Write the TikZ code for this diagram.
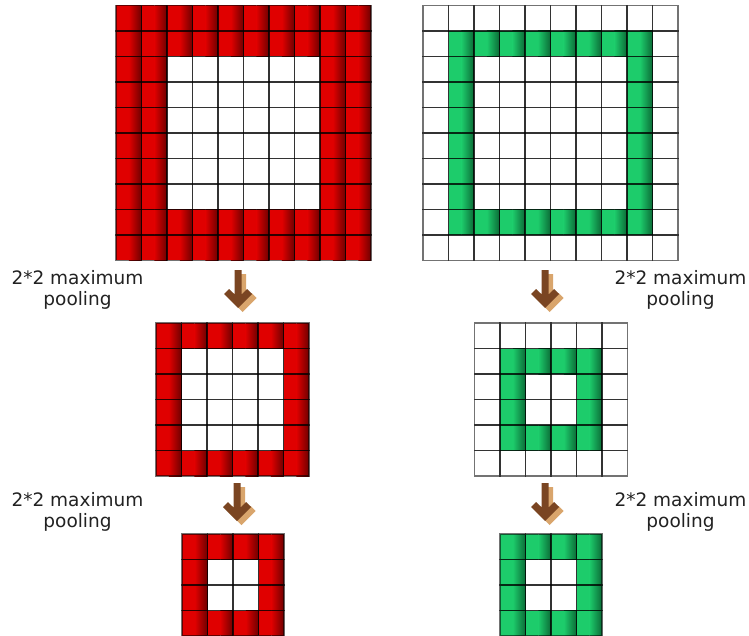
\documentclass[tikz,border=0pt]{standalone}
\usepackage{fontspec}
\setmainfont{DejaVu Sans}
\usetikzlibrary{positioning}
\definecolor{poolred}{HTML}{E00000}
\definecolor{poolreddark}{HTML}{6E0000}
\definecolor{poolgreen}{HTML}{1DCC6B}
\definecolor{poolgreendark}{HTML}{0B6B37}
\definecolor{arrowbrown}{HTML}{7A4522}
\definecolor{arrowtan}{HTML}{D9A56C}
\definecolor{notegray}{HTML}{222222}
\tikzset{
    cellline/.style={draw=black, draw opacity=0.55, line width=0.8pt},
    poolnote/.style={
        align=center,
        text=notegray,
        inner sep=0pt,
        font=\fontsize{9.25pt}{10.5pt}\selectfont
    },
    poolarrow/.pic={
        \foreach \dx/\dy/\col in {4.5/4/arrowtan, 0/0/arrowbrown}
            \fill[\col, shift={(\dx,\dy)}] (-3.5,-38) -- (3.5,-38) -- (3.5,-13.5) -- (9,-19) -- (14,-14)
                -- (0,0) -- (-14,-14) -- (-9,-19) -- (-3.5,-13.5) -- cycle;
    }
}
% grid: name, left, top, cells, colour, first ring, last ring
\newcommand{\poolgrid}[7]{%
    \pgfmathtruncatemacro{\gridlast}{#4-1}
    \foreach \i in {0,...,\gridlast}{
        \foreach \j in {0,...,\gridlast}{
            \pgfmathtruncatemacro{\cellring}{min(\i,\j,\gridlast-\i,\gridlast-\j)}
            \pgfmathtruncatemacro{\cellon}{and(\cellring>=#6,\cellring<=#7)}
            \ifnum\cellon=1
                \fill[#5] (#2+25.5*\i,#3+25.5*\j) rectangle ++(12.9,25.5);
                \shade[left color=#5, right color=#5dark] (#2+25.5*\i+12.75,#3+25.5*\j) rectangle ++(12.75,25.5);
            \fi
        }
    }
    \foreach \i in {0,...,\gridlast}{
        \foreach \j in {0,...,\gridlast}{
            \draw[cellline] (#2+25.5*\i,#3+25.5*\j) rectangle ++(25.5,25.5);
        }
    }
    \node[inner sep=0pt, minimum size=#4*12.75pt] (#1) at (#2+12.75*#4,#3+12.75*#4) {};
}

\begin{document}
\begin{tikzpicture}[x=0.5pt, y=-0.5pt]
    \useasboundingbox[fill=white] (0,0) rectangle (749,636);

    \poolgrid{bigred}{116}{5.5}{10}{poolred}{0}{1}
    \poolgrid{biggreen}{423}{5.5}{10}{poolgreen}{1}{1}
    \poolgrid{midred}{156}{323}{6}{poolred}{0}{0}
    \poolgrid{midgreen}{474.5}{323}{6}{poolgreen}{1}{1}
    \poolgrid{smallred}{182}{534}{4}{poolred}{0}{0}
    \poolgrid{smallgreen}{500}{534}{4}{poolgreen}{0}{0}

    \coordinate (tipA) at (238,308);
    \coordinate (tipB) at (545,308);
    \coordinate (tipC) at (237,521);
    \coordinate (tipD) at (545,521);
    \foreach \t in {tipA, tipB, tipC, tipD}
        \pic at (\t) {poolarrow};

    \node[poolnote] (noteA) at (77.5,290) {2*2 maximum\\pooling};
    \node[poolnote] (noteB) at (680.5,290) {2*2 maximum\\pooling};
    \node[poolnote] (noteC) at (77.5,512) {2*2 maximum\\pooling};
    \node[poolnote] (noteD) at (680.5,512) {2*2 maximum\\pooling};
\end{tikzpicture}
\end{document}
